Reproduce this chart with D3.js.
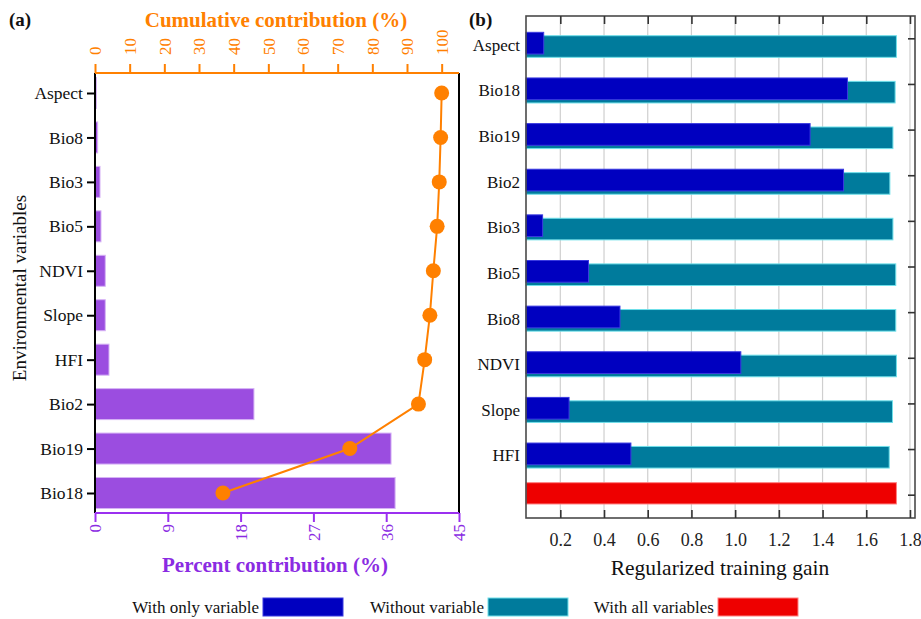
<!DOCTYPE html>
<html>
<head>
<meta charset="utf-8">
<script src="https://cdn.jsdelivr.net/npm/d3@7"></script>
<style>
  html, body { margin: 0; padding: 0; background: #fff; }
  svg text { font-family: "Liberation Serif", "Times New Roman", serif; }
</style>
</head>
<body>
<svg id="chart" width="921" height="619"></svg>
<script>
// ---------- Panel (a): percent and cumulative contribution ----------
const varsA = ["Aspect", "Bio8", "Bio3", "Bio5", "NDVI", "Slope", "HFI", "Bio2", "Bio19", "Bio18"];
const percentA = [0.16, 0.33, 0.62, 0.74, 1.27, 1.27, 1.73, 19.65, 36.6, 37.1];
const cumulativeA = [100, 99.7, 99.3, 98.7, 97.6, 96.6, 95.1, 93.3, 73.5, 36.9];
const percentTicks = [0, 9, 18, 27, 36, 45];
const cumulativeTicks = [0, 10, 20, 30, 40, 50, 60, 70, 80, 90, 100];

// ---------- Panel (b): jackknife of regularized training gain ----------
const varsB = ["Aspect", "Bio18", "Bio19", "Bio2", "Bio3", "Bio5", "Bio8", "NDVI", "Slope", "HFI"];
const withOnly = [0.124, 1.514, 1.343, 1.496, 0.119, 0.329, 0.473, 1.026, 0.240, 0.523];
const withoutVar = [1.738, 1.732, 1.722, 1.708, 1.722, 1.735, 1.735, 1.738, 1.720, 1.705];
const withAll = 1.738;
const gainTicks = [0.2, 0.4, 0.6, 0.8, 1.0, 1.2, 1.4, 1.6, 1.8];
const legendItems = ["With only variable", "Without variable", "With all variables"];

const PURPLE = "#9b4de0", PURPLE_TXT = "#8a2be2", ORANGE = "#ff8000";
const BLUE = "#0000c0", TEAL = "#007b9c", RED = "#ee0000";

const svg = d3.select("#chart");

// ===== Panel (a) =====
const aL = 95, aR = 459, aT = 73, aB = 513;
const xP = d3.scaleLinear().domain([0, 45]).range([aL, aR]);
const xC = d3.scaleLinear().domain([0, 105]).range([aL, aR]);
const yA = d3.scalePoint().domain(varsA).range([93, 493]);
const barHA = 31;

const gA = svg.append("g");

gA.selectAll("rect.pct").data(varsA).join("rect")
  .attr("class", "pct")
  .attr("x", xP(0))
  .attr("y", d => yA(d) - barHA / 2)
  .attr("width", (d, i) => xP(percentA[i]) - xP(0))
  .attr("height", barHA)
  .attr("fill", PURPLE)
  .attr("stroke", "#d6b3f5")
  .attr("stroke-width", 1);

// cumulative line and markers
const cumPts = varsA.map((v, i) => [xC(cumulativeA[i]), yA(v)]);
gA.append("path")
  .attr("d", d3.line()(cumPts))
  .attr("fill", "none")
  .attr("stroke", ORANGE)
  .attr("stroke-width", 2);
gA.selectAll("circle.cum").data(cumPts).join("circle")
  .attr("class", "cum")
  .attr("cx", d => d[0]).attr("cy", d => d[1])
  .attr("r", 7.5)
  .attr("fill", ORANGE);

// left axis (categories)
const leftAx = gA.append("g").attr("transform", `translate(${aL},0)`)
  .call(d3.axisLeft(yA).tickSize(8).tickPadding(4));
leftAx.select(".domain").remove();
leftAx.selectAll(".tick line").attr("stroke", "#000").attr("stroke-width", 2);
leftAx.selectAll(".tick text").attr("font-size", 17.5).attr("fill", "#111")
  .attr("font-family", "Liberation Serif");
gA.append("line").attr("x1", aL).attr("x2", aL).attr("y1", aT).attr("y2", aB)
  .attr("stroke", "#000").attr("stroke-width", 2);
gA.append("line").attr("x1", aR).attr("x2", aR).attr("y1", aT).attr("y2", aB)
  .attr("stroke", "#000").attr("stroke-width", 2);

// top axis (cumulative, orange)
const topAx = gA.append("g").attr("transform", `translate(0,${aT})`)
  .call(d3.axisTop(xC).tickValues(cumulativeTicks).tickSize(9).tickSizeOuter(0));
topAx.select(".domain").remove();
gA.append("line").attr("x1", aL).attr("x2", aR).attr("y1", aT).attr("y2", aT)
  .attr("stroke", ORANGE).attr("stroke-width", 2);
topAx.selectAll(".tick line").attr("stroke", ORANGE).attr("stroke-width", 2);
topAx.selectAll(".tick text")
  .attr("fill", ORANGE).attr("font-size", 17).attr("font-family", "Liberation Serif")
  .attr("transform", "translate(0,-18) rotate(-90)")
  .attr("x", 0).attr("y", 0).attr("dy", "0.35em")
  .attr("text-anchor", "start");

// bottom axis (percent, purple)
const botAx = gA.append("g").attr("transform", `translate(0,${aB})`)
  .call(d3.axisBottom(xP).tickValues(percentTicks).tickSize(9).tickSizeOuter(0));
botAx.select(".domain").remove();
gA.append("line").attr("x1", aL).attr("x2", aR).attr("y1", aB).attr("y2", aB)
  .attr("stroke", "#9b30f0").attr("stroke-width", 2);
botAx.selectAll(".tick line").attr("stroke", "#9b30f0").attr("stroke-width", 2);
botAx.selectAll(".tick text")
  .attr("fill", PURPLE_TXT).attr("font-size", 17).attr("font-family", "Liberation Serif")
  .attr("transform", "translate(0,11) rotate(-90)")
  .attr("x", 0).attr("y", 0).attr("dy", "0.35em")
  .attr("text-anchor", "end");

// titles
gA.append("text").attr("x", 276).attr("y", 27).attr("text-anchor", "middle")
  .attr("font-size", 21).attr("font-weight", "bold").attr("fill", ORANGE)
  .text("Cumulative contribution (%)");
gA.append("text").attr("x", 275).attr("y", 572).attr("text-anchor", "middle")
  .attr("font-size", 21).attr("font-weight", "bold").attr("fill", PURPLE_TXT)
  .text("Percent contribution (%)");
gA.append("text").attr("transform", "translate(26,288) rotate(-90)")
  .attr("text-anchor", "middle").attr("font-size", 19).attr("fill", "#111")
  .text("Environmental variables");
gA.append("text").attr("x", 9).attr("y", 26).attr("font-size", 19)
  .attr("font-weight", "bold").attr("fill", "#111").text("(a)");

// ===== Panel (b) =====
const bL = 526, bR = 915, bT = 16, bB = 518;
const xG = d3.scaleLinear().domain([0.043, 1.823]).range([bL, bR]);
const rowsB = varsB.concat(["all"]);
const yB = d3.scaleBand().domain(rowsB).range([bT, bB]);
const cy = d => yB(d) + yB.bandwidth() / 2;

const gB = svg.append("g");

// vertical grid
gB.selectAll("line.grid").data(gainTicks).join("line")
  .attr("class", "grid")
  .attr("x1", d => xG(d)).attr("x2", d => xG(d))
  .attr("y1", bT).attr("y2", bB)
  .attr("stroke", "#cfcfcf").attr("stroke-width", 1.2);

// without-variable bars (teal) under the with-only bars (blue)
gB.selectAll("rect.without").data(varsB).join("rect")
  .attr("class", "without")
  .attr("x", xG.range()[0])
  .attr("y", d => cy(d) - 3.1)
  .attr("width", (d, i) => xG(withoutVar[i]) - xG.range()[0])
  .attr("height", 21.6)
  .attr("fill", TEAL).attr("stroke", "#6fe0ea").attr("stroke-width", 1);
gB.selectAll("rect.only").data(varsB).join("rect")
  .attr("class", "only")
  .attr("x", xG.range()[0])
  .attr("y", d => cy(d) - 6.5)
  .attr("width", (d, i) => xG(withOnly[i]) - xG.range()[0])
  .attr("height", 21.7)
  .attr("fill", BLUE).attr("stroke", "#3a3ae0").attr("stroke-width", 1);
gB.append("rect")
  .attr("x", xG.range()[0])
  .attr("y", cy("all") - 12.5)
  .attr("width", xG(withAll) - xG.range()[0])
  .attr("height", 21.3)
  .attr("fill", RED).attr("stroke", "#ff8080").attr("stroke-width", 1);

// frame
gB.append("rect").attr("x", bL).attr("y", bT).attr("width", bR - bL).attr("height", bB - bT)
  .attr("fill", "none").attr("stroke", "#4a4a4a").attr("stroke-width", 1.6);

// bottom axis: inward ticks, labels below
const bAx = gB.append("g").attr("transform", `translate(0,${bB})`)
  .call(d3.axisBottom(xG).tickValues(gainTicks).tickSize(-8).tickPadding(15)
    .tickFormat(d3.format(".1f")));
bAx.select(".domain").remove();
bAx.selectAll(".tick line").attr("stroke", "#333").attr("stroke-width", 1.6);
bAx.selectAll(".tick text").attr("font-size", 18).attr("fill", "#222")
  .attr("font-family", "Liberation Serif");

// top inward ticks
const tAx = gB.append("g").attr("transform", `translate(0,${bT})`)
  .call(d3.axisTop(xG).tickValues(gainTicks).tickSize(-8).tickFormat(""));
tAx.select(".domain").remove();
tAx.selectAll(".tick line").attr("stroke", "#333").attr("stroke-width", 1.6);

// right inward ticks at row centres
const rAx = gB.append("g").attr("transform", `translate(${bR},0)`)
  .call(d3.axisRight(yB).tickSize(-7).tickFormat(""));
rAx.select(".domain").remove();
rAx.selectAll(".tick line").attr("stroke", "#333").attr("stroke-width", 1.6);

// row labels
gB.selectAll("text.row").data(varsB).join("text")
  .attr("class", "row")
  .attr("x", 520).attr("y", d => cy(d) + 6)
  .attr("dy", "0.35em")
  .attr("text-anchor", "end").attr("font-size", 17).attr("fill", "#111")
  .text(d => d);

gB.append("text").attr("x", 720).attr("y", 575).attr("text-anchor", "middle")
  .attr("font-size", 21.5).attr("fill", "#111").text("Regularized training gain");
gB.append("text").attr("x", 469).attr("y", 26).attr("font-size", 19)
  .attr("font-weight", "bold").attr("fill", "#111").text("(b)");

// ===== Legend =====
const legendColors = [BLUE, TEAL, RED];
const legendStroke = ["#3a3ae0", "#6fe0ea", "#ff8080"];
const legendTextEnd = [259, 484, 714];
const gL = svg.append("g");
legendItems.forEach((name, i) => {
  gL.append("text").attr("x", legendTextEnd[i]).attr("y", 607).attr("dy", "0.35em")
    .attr("text-anchor", "end").attr("font-size", 17).attr("fill", "#111").text(name);
  gL.append("rect").attr("x", legendTextEnd[i] + 4).attr("y", 598)
    .attr("width", 80).attr("height", 18)
    .attr("fill", legendColors[i]).attr("stroke", legendStroke[i]).attr("stroke-width", 1);
});
</script>
</body>
</html>
